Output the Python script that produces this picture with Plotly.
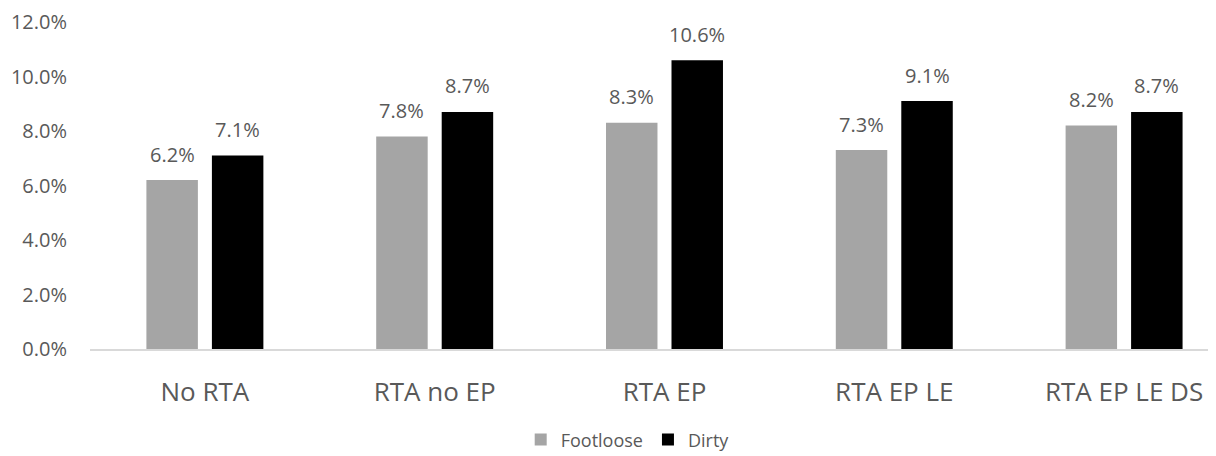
import plotly.graph_objects as go

categories = ["No RTA", "RTA no EP", "RTA EP", "RTA EP LE", "RTA EP LE DS"]
footloose = [0.062, 0.078, 0.083, 0.073, 0.082]
dirty = [0.071, 0.087, 0.106, 0.091, 0.087]
y_ticks = [0.0, 0.02, 0.04, 0.06, 0.08, 0.10, 0.12]

FONT = "Open Sans"
TXT = "#595959"
W, H = 1208, 448
ML, MR, MT, MB = 82, 0, 12, 107
XR = [-0.5, 4.4]
BARGAP = 0.43

fig = go.Figure()
series = [("Footloose", footloose, "#a5a5a5"), ("Dirty", dirty, "#000000")]
for name, vals, color in series:
    fig.add_trace(go.Bar(
        x=categories, y=vals, name=name,
        marker=dict(color=color, line=dict(width=0)),
        cliponaxis=False,
    ))

# data labels above bars
unit_px = (W - ML - MR) / (XR[1] - XR[0])
half_slot = (1 - BARGAP) / 4 * unit_px
for k, (name, vals, color) in enumerate(series):
    sgn = -1 if k == 0 else 1
    for c, v in zip(categories, vals):
        fig.add_annotation(x=c, y=v, text=f"{v*100:.1f}%", showarrow=False,
                           xshift=sgn * half_slot, yshift=26, yanchor="middle",
                           font=dict(family=FONT, size=20, color=TXT))

fig.update_layout(
    width=W, height=H,
    margin=dict(l=ML, r=MR, t=MT, b=MB),
    paper_bgcolor="white", plot_bgcolor="white",
    barmode="group", bargap=BARGAP, bargroupgap=0.214,
    font=dict(family=FONT, color=TXT),
    showlegend=True,
    legend=dict(orientation="h", xref="container", yref="container",
                x=0.513, xanchor="center", y=0.036, yanchor="middle",
                font=dict(size=18, color=TXT), itemwidth=30),
    xaxis=dict(range=XR, showline=True, linecolor="#d9d9d9", linewidth=1.5,
               showgrid=False, ticks="", tickfont=dict(size=26, color=TXT), ticklabelstandoff=19),
    yaxis=dict(range=[0, 0.12001], tickvals=y_ticks, tickformat=".1%", showgrid=False,
               zeroline=False, showline=False, ticks="", tickfont=dict(size=20, color=TXT),
               ticklabelstandoff=22, ticklabeloverflow="allow"),
)

fig.write_html("out.html")
